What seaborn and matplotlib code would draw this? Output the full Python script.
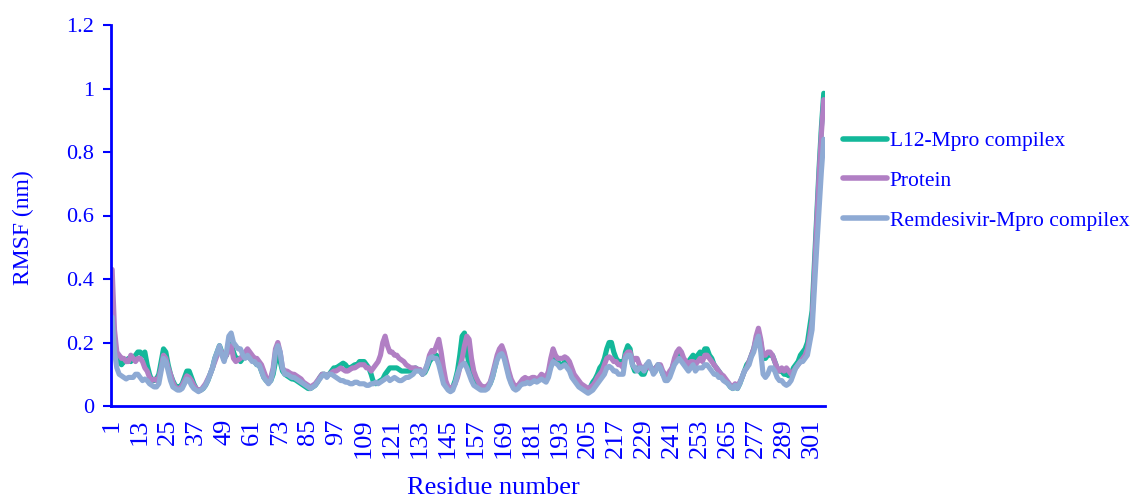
import numpy as np
import pandas as pd
import matplotlib
matplotlib.use("Agg")
import matplotlib.pyplot as plt
import seaborn as sns

# RMSF per residue (nm) for the three systems, 12 residues per row
l12_mpro = [
    0.30, 0.20, 0.15, 0.14, 0.13, 0.14, 0.14, 0.15, 0.14, 0.15, 0.16, 0.17,
    0.17, 0.16, 0.17, 0.13, 0.10, 0.08, 0.08, 0.085, 0.10, 0.14, 0.18, 0.17,
    0.13, 0.10, 0.08, 0.065, 0.06, 0.06, 0.07, 0.09, 0.11, 0.11, 0.09, 0.07,
    0.055, 0.05, 0.05, 0.055, 0.065, 0.08, 0.10, 0.12, 0.15, 0.17, 0.19, 0.17,
    0.15, 0.16, 0.19, 0.20, 0.17, 0.15, 0.15, 0.14, 0.15, 0.16, 0.16, 0.15,
    0.15, 0.14, 0.13, 0.13, 0.11, 0.09, 0.08, 0.075, 0.08, 0.10, 0.14, 0.16,
    0.14, 0.11, 0.10, 0.095, 0.09, 0.085, 0.085, 0.08, 0.075, 0.07, 0.065, 0.06,
    0.055, 0.055, 0.06, 0.065, 0.075, 0.09, 0.10, 0.10, 0.095, 0.10, 0.11, 0.12,
    0.12, 0.125, 0.13, 0.135, 0.13, 0.12, 0.12, 0.125, 0.13, 0.13, 0.14, 0.14,
    0.14, 0.13, 0.12, 0.10, 0.075, 0.07, 0.075, 0.08, 0.085, 0.10, 0.11, 0.12,
    0.12, 0.12, 0.12, 0.115, 0.11, 0.11, 0.11, 0.11, 0.11, 0.115, 0.12, 0.115,
    0.11, 0.10, 0.105, 0.12, 0.14, 0.15, 0.155, 0.16, 0.15, 0.12, 0.09, 0.07,
    0.06, 0.055, 0.06, 0.08, 0.11, 0.16, 0.22, 0.23, 0.17, 0.13, 0.10, 0.08,
    0.07, 0.06, 0.055, 0.055, 0.055, 0.06, 0.07, 0.09, 0.12, 0.15, 0.17, 0.175,
    0.16, 0.13, 0.10, 0.075, 0.06, 0.055, 0.06, 0.07, 0.075, 0.075, 0.08, 0.08,
    0.08, 0.085, 0.08, 0.085, 0.09, 0.085, 0.08, 0.10, 0.13, 0.16, 0.15, 0.14,
    0.13, 0.13, 0.14, 0.13, 0.12, 0.10, 0.09, 0.08, 0.07, 0.065, 0.06, 0.055,
    0.05, 0.06, 0.075, 0.085, 0.10, 0.12, 0.13, 0.15, 0.18, 0.20, 0.20, 0.17,
    0.15, 0.14, 0.14, 0.13, 0.17, 0.19, 0.18, 0.13, 0.11, 0.12, 0.11, 0.10,
    0.10, 0.12, 0.13, 0.12, 0.11, 0.12, 0.13, 0.12, 0.10, 0.09, 0.09, 0.10,
    0.12, 0.14, 0.16, 0.165, 0.16, 0.14, 0.13, 0.14, 0.15, 0.16, 0.15, 0.16,
    0.17, 0.16, 0.18, 0.18, 0.16, 0.15, 0.13, 0.12, 0.11, 0.10, 0.09, 0.08,
    0.07, 0.06, 0.055, 0.06, 0.055, 0.07, 0.09, 0.11, 0.13, 0.14, 0.16, 0.18,
    0.21, 0.23, 0.20, 0.15, 0.15, 0.16, 0.16, 0.16, 0.14, 0.12, 0.11, 0.11,
    0.10, 0.10, 0.095, 0.10, 0.12, 0.13, 0.14, 0.16, 0.17, 0.18, 0.20, 0.25,
    0.30, 0.45, 0.60, 0.75, 0.88, 0.985,
]

protein = [
    0.43, 0.24, 0.17, 0.16, 0.15, 0.15, 0.14, 0.14, 0.16, 0.15, 0.14, 0.15,
    0.15, 0.14, 0.12, 0.11, 0.09, 0.08, 0.085, 0.08, 0.09, 0.12, 0.16, 0.15,
    0.12, 0.10, 0.075, 0.06, 0.055, 0.055, 0.065, 0.08, 0.095, 0.09, 0.08, 0.065,
    0.055, 0.05, 0.05, 0.06, 0.07, 0.085, 0.10, 0.12, 0.14, 0.16, 0.18, 0.17,
    0.15, 0.16, 0.18, 0.19, 0.15, 0.14, 0.145, 0.15, 0.16, 0.17, 0.18, 0.17,
    0.16, 0.15, 0.15, 0.14, 0.13, 0.11, 0.09, 0.08, 0.09, 0.12, 0.18, 0.20,
    0.17, 0.12, 0.11, 0.11, 0.105, 0.10, 0.10, 0.095, 0.09, 0.085, 0.075, 0.07,
    0.065, 0.06, 0.065, 0.07, 0.08, 0.09, 0.10, 0.10, 0.095, 0.10, 0.105, 0.11,
    0.11, 0.115, 0.12, 0.115, 0.11, 0.11, 0.115, 0.12, 0.12, 0.125, 0.13, 0.13,
    0.13, 0.12, 0.12, 0.11, 0.12, 0.13, 0.14, 0.16, 0.20, 0.22, 0.19, 0.17,
    0.17, 0.16, 0.16, 0.15, 0.145, 0.14, 0.13, 0.125, 0.12, 0.12, 0.12, 0.115,
    0.115, 0.10, 0.11, 0.13, 0.16, 0.175, 0.17, 0.19, 0.21, 0.17, 0.12, 0.08,
    0.06, 0.055, 0.06, 0.07, 0.09, 0.12, 0.15, 0.19, 0.22, 0.21, 0.15, 0.11,
    0.09, 0.075, 0.065, 0.06, 0.06, 0.065, 0.075, 0.10, 0.13, 0.16, 0.18, 0.19,
    0.17, 0.14, 0.11, 0.085, 0.07, 0.06, 0.065, 0.075, 0.085, 0.09, 0.085, 0.085,
    0.09, 0.09, 0.085, 0.09, 0.10, 0.095, 0.09, 0.11, 0.15, 0.18, 0.16, 0.15,
    0.15, 0.15, 0.155, 0.15, 0.14, 0.12, 0.10, 0.09, 0.08, 0.07, 0.065, 0.06,
    0.055, 0.06, 0.065, 0.075, 0.09, 0.10, 0.11, 0.13, 0.15, 0.155, 0.15, 0.14,
    0.14, 0.13, 0.13, 0.12, 0.16, 0.17, 0.17, 0.14, 0.15, 0.15, 0.13, 0.12,
    0.12, 0.13, 0.12, 0.12, 0.11, 0.12, 0.13, 0.13, 0.11, 0.10, 0.095, 0.11,
    0.12, 0.15, 0.17, 0.18, 0.17, 0.15, 0.14, 0.13, 0.14, 0.14, 0.13, 0.14,
    0.15, 0.14, 0.16, 0.16, 0.15, 0.14, 0.13, 0.12, 0.11, 0.10, 0.095, 0.085,
    0.075, 0.065, 0.06, 0.07, 0.06, 0.075, 0.09, 0.11, 0.12, 0.14, 0.16, 0.18,
    0.22, 0.245, 0.21, 0.16, 0.16, 0.17, 0.17, 0.16, 0.14, 0.12, 0.11, 0.12,
    0.11, 0.12, 0.11, 0.10, 0.11, 0.12, 0.13, 0.14, 0.15, 0.16, 0.18, 0.22,
    0.27, 0.42, 0.58, 0.73, 0.86, 0.965,
]

remdesivir_mpro = [
    0.28, 0.17, 0.12, 0.10, 0.095, 0.09, 0.085, 0.09, 0.09, 0.09, 0.10, 0.10,
    0.09, 0.08, 0.085, 0.08, 0.07, 0.065, 0.06, 0.06, 0.07, 0.11, 0.15, 0.14,
    0.11, 0.08, 0.06, 0.055, 0.05, 0.05, 0.055, 0.07, 0.085, 0.08, 0.065, 0.055,
    0.05, 0.045, 0.05, 0.055, 0.065, 0.08, 0.10, 0.12, 0.15, 0.17, 0.19, 0.16,
    0.14, 0.17, 0.22, 0.23, 0.20, 0.19, 0.18, 0.18, 0.16, 0.15, 0.16, 0.15,
    0.14, 0.14, 0.13, 0.13, 0.11, 0.09, 0.08, 0.07, 0.08, 0.11, 0.17, 0.19,
    0.17, 0.12, 0.10, 0.10, 0.095, 0.09, 0.09, 0.085, 0.08, 0.075, 0.07, 0.065,
    0.06, 0.055, 0.06, 0.065, 0.075, 0.085, 0.095, 0.10, 0.09, 0.10, 0.10, 0.095,
    0.09, 0.085, 0.08, 0.08, 0.075, 0.075, 0.07, 0.07, 0.075, 0.075, 0.07, 0.07,
    0.07, 0.065, 0.065, 0.07, 0.07, 0.075, 0.07, 0.075, 0.08, 0.085, 0.09, 0.08,
    0.085, 0.09, 0.085, 0.08, 0.08, 0.085, 0.09, 0.09, 0.095, 0.10, 0.11, 0.11,
    0.11, 0.10, 0.11, 0.13, 0.15, 0.155, 0.15, 0.15, 0.13, 0.10, 0.07, 0.06,
    0.05, 0.045, 0.05, 0.07, 0.10, 0.12, 0.13, 0.135, 0.12, 0.10, 0.08, 0.065,
    0.06, 0.055, 0.05, 0.05, 0.05, 0.055, 0.07, 0.09, 0.12, 0.145, 0.16, 0.165,
    0.15, 0.12, 0.09, 0.07, 0.055, 0.05, 0.055, 0.065, 0.07, 0.07, 0.075, 0.07,
    0.075, 0.08, 0.075, 0.08, 0.085, 0.08, 0.075, 0.09, 0.12, 0.14, 0.135, 0.13,
    0.12, 0.125, 0.13, 0.12, 0.11, 0.09, 0.08, 0.07, 0.06, 0.055, 0.05, 0.045,
    0.04, 0.045, 0.05, 0.06, 0.07, 0.08, 0.09, 0.10, 0.12, 0.125, 0.12, 0.11,
    0.11, 0.10, 0.10, 0.10, 0.15, 0.16, 0.16, 0.13, 0.12, 0.11, 0.12, 0.12,
    0.11, 0.13, 0.14, 0.12, 0.10, 0.11, 0.13, 0.12, 0.10, 0.08, 0.08, 0.09,
    0.11, 0.13, 0.14, 0.15, 0.14, 0.13, 0.12, 0.11, 0.12, 0.13, 0.11, 0.12,
    0.12, 0.12, 0.13, 0.13, 0.12, 0.11, 0.10, 0.10, 0.09, 0.09, 0.08, 0.075,
    0.07, 0.06, 0.055, 0.065, 0.055, 0.07, 0.09, 0.11, 0.12, 0.13, 0.155, 0.17,
    0.20, 0.22, 0.17, 0.10, 0.09, 0.10, 0.12, 0.12, 0.11, 0.09, 0.08, 0.08,
    0.07, 0.065, 0.07, 0.08, 0.10, 0.12, 0.13, 0.14, 0.14, 0.15, 0.16, 0.20,
    0.24, 0.37, 0.50, 0.62, 0.74, 0.84,
]

series_names = ["L12-Mpro compilex", "Protein", "Remdesivir-Mpro compilex"]
series_colors = ["#13b89a", "#b17fc4", "#8eaad4"]
y_ticks = [0, 0.2, 0.4, 0.6, 0.8, 1.0, 1.2]
y_tick_labels = ["0", "0.2", "0.4", "0.6", "0.8", "1", "1.2"]

residues = np.arange(1, len(protein) + 1)
x_ticks = list(range(1, len(protein) + 1, 12))

df = pd.DataFrame({
    "Residue": np.concatenate([residues] * 3),
    "RMSF": np.concatenate([l12_mpro, protein, remdesivir_mpro]),
    "System": np.repeat(series_names, len(residues)),
})

sns.set_style("white")
plt.rcParams["font.family"] = ["Liberation Serif", "DejaVu Serif"]

blue = "#0000ff"
fig = plt.figure(figsize=(11.35, 5), dpi=100)
ax = fig.add_axes([0.0978, 0.188, 0.629, 0.762])

sns.lineplot(data=df, x="Residue", y="RMSF", hue="System",
             hue_order=series_names, palette=series_colors,
             linewidth=3.7, ax=ax, sort=False, estimator=None)

ax.set_xlim(0.5, len(protein) + 0.5)
ax.set_ylim(0, 1.2)
ax.set_xticks(x_ticks)
ax.set_xticklabels([str(t) for t in x_ticks], rotation=90)
ax.set_yticks(y_ticks)
ax.set_yticklabels(y_tick_labels)

ax.tick_params(axis="x", length=0, colors=blue, labelsize=19, pad=9)
ax.tick_params(axis="y", length=6, width=1.5, colors=blue,
               direction="out", labelsize=16, pad=6, left=True)

for side in ["top", "right"]:
    ax.spines[side].set_visible(False)
for side in ["left", "bottom"]:
    ax.spines[side].set_color(blue)
    ax.spines[side].set_linewidth(2)

ax.set_xlabel("Residue number", color=blue, fontsize=19)
ax.set_ylabel("RMSF (nm)", color=blue, fontsize=17)
ax.xaxis.set_label_coords(0.535, -0.186)
ax.yaxis.set_label_coords(-0.108, 0.467)

handles, labels = ax.get_legend_handles_labels()
ax.get_legend().remove()
leg = fig.legend(handles, labels, loc="upper left",
                 bbox_to_anchor=(843 / 1135, 1 - 131 / 500),
                 frameon=False, fontsize=15.5, labelcolor=blue,
                 handlelength=2.05, handletextpad=0.12, labelspacing=0.92,
                 borderpad=0, borderaxespad=0)
for line in leg.get_lines():
    line.set_linewidth(4.0)

fig.savefig("out.png", dpi=100)
